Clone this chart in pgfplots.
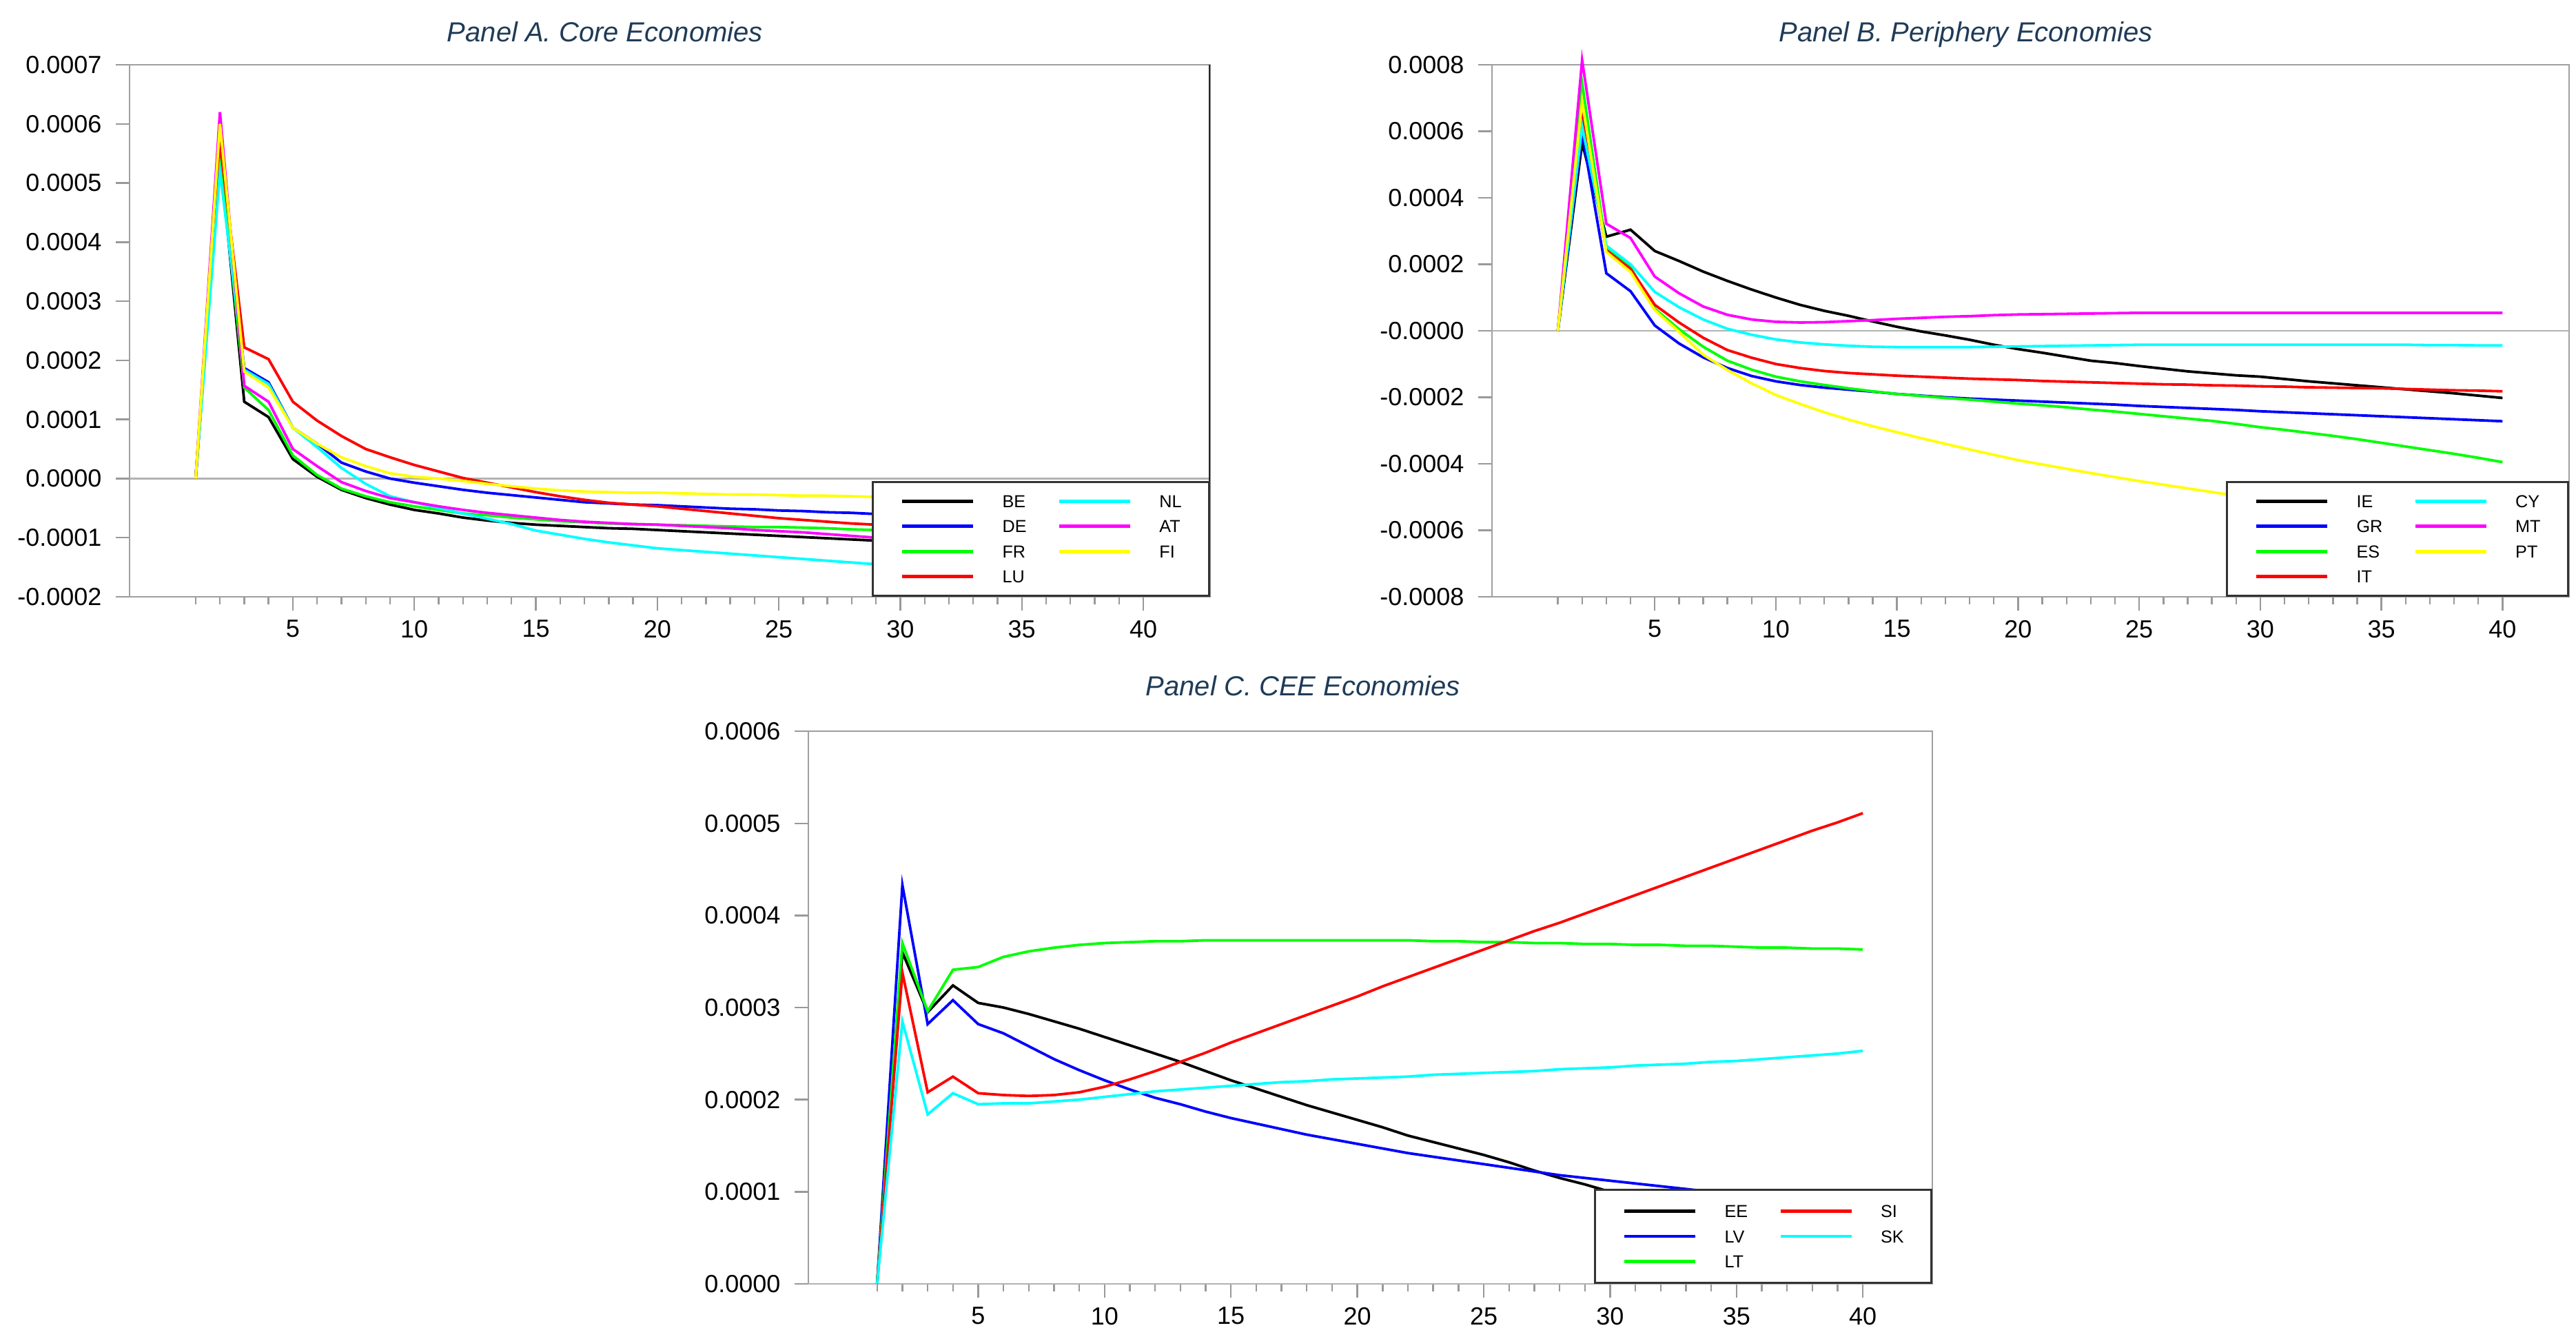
\documentclass[border=0pt]{standalone}
\usepackage{pgfplots}
\pgfplotsset{compat=1.18}
\usepackage{pgfplotstable}
\usepackage{fontspec}
\setmainfont{Liberation Sans}
\definecolor{titleblue}{HTML}{1F3B57}
\definecolor{cgreen}{RGB}{0,255,0}
\definecolor{cblue}{RGB}{0,0,255}
\definecolor{cred}{RGB}{255,0,0}
\definecolor{ccyan}{RGB}{0,255,255}
\definecolor{cmag}{RGB}{255,0,255}
\definecolor{cyel}{RGB}{255,255,0}

% values in units of 0.0001
\pgfplotstableread{
t BE DE FR LU NL AT FI
1 0 0 0 0 0 0 0
2 5.5 5.45 5.5 5.7 5.2 6.2 6.0
3 1.30 1.87 1.54 2.22 1.84 1.57 1.81
4 1.04 1.63 1.16 2.02 1.60 1.30 1.54
5 0.33 0.86 0.39 1.30 0.86 0.50 0.86
6 0.03 0.59 0.06 0.98 0.53 0.21 0.59
7 -0.19 0.27 -0.17 0.72 0.18 -0.06 0.36
8 -0.33 0.12 -0.30 0.50 -0.09 -0.21 0.21
9 -0.44 0.00 -0.40 0.36 -0.30 -0.33 0.09
10 -0.53 -0.07 -0.47 0.23 -0.40 -0.40 0.03
11 -0.59 -0.13 -0.53 0.12 -0.50 -0.47 0.00
12 -0.66 -0.19 -0.59 0.01 -0.59 -0.53 -0.04
13 -0.71 -0.24 -0.62 -0.07 -0.68 -0.58 -0.09
14 -0.75 -0.28 -0.66 -0.15 -0.77 -0.62 -0.13
15 -0.78 -0.32 -0.69 -0.23 -0.88 -0.66 -0.17
16 -0.80 -0.36 -0.72 -0.30 -0.95 -0.70 -0.20
17 -0.82 -0.40 -0.74 -0.36 -1.02 -0.73 -0.22
18 -0.84 -0.42 -0.76 -0.41 -1.08 -0.75 -0.23
19 -0.85 -0.44 -0.77 -0.44 -1.13 -0.77 -0.24
20 -0.87 -0.45 -0.78 -0.47 -1.18 -0.78 -0.24
21 -0.89 -0.47 -0.79 -0.51 -1.21 -0.80 -0.25
22 -0.91 -0.49 -0.80 -0.55 -1.24 -0.82 -0.26
23 -0.93 -0.51 -0.81 -0.59 -1.27 -0.84 -0.27
24 -0.95 -0.52 -0.82 -0.63 -1.30 -0.87 -0.27
25 -0.97 -0.54 -0.82 -0.67 -1.33 -0.89 -0.28
26 -0.99 -0.55 -0.83 -0.70 -1.36 -0.91 -0.29
27 -1.01 -0.57 -0.84 -0.73 -1.39 -0.94 -0.29
28 -1.03 -0.58 -0.86 -0.76 -1.42 -0.97 -0.30
29 -1.05 -0.60 -0.87 -0.78 -1.45 -1.00 -0.31
30 -1.06 -0.61 -0.88 -0.80 -1.48 -1.01 -0.31
31 -1.08 -0.62 -0.89 -0.82 -1.50 -1.03 -0.31
32 -1.09 -0.63 -0.90 -0.84 -1.52 -1.04 -0.32
33 -1.11 -0.64 -0.90 -0.86 -1.54 -1.05 -0.32
34 -1.12 -0.65 -0.91 -0.87 -1.56 -1.06 -0.32
35 -1.14 -0.66 -0.92 -0.89 -1.58 -1.07 -0.32
36 -1.15 -0.67 -0.92 -0.90 -1.60 -1.08 -0.33
37 -1.16 -0.68 -0.93 -0.91 -1.62 -1.09 -0.33
38 -1.18 -0.69 -0.94 -0.93 -1.64 -1.10 -0.33
39 -1.19 -0.70 -0.94 -0.94 -1.66 -1.11 -0.33
40 -1.20 -0.71 -0.95 -0.95 -1.68 -1.12 -0.33
}\coretab

\pgfplotstableread{
t IE GR ES IT CY MT PT
1 0 0 0 0 0 0 0
2 5.65 5.95 7.45 6.48 6.15 8.14 6.90
3 2.83 1.73 2.46 2.42 2.56 3.22 2.37
4 3.04 1.19 1.91 1.86 2.00 2.79 1.77
5 2.40 0.16 0.66 0.78 1.17 1.63 0.62
6 2.10 -0.38 0.05 0.25 0.71 1.13 -0.03
7 1.78 -0.80 -0.48 -0.21 0.34 0.73 -0.72
8 1.50 -1.12 -0.90 -0.58 0.06 0.48 -1.18
9 1.24 -1.36 -1.17 -0.81 -0.12 0.34 -1.58
10 1.00 -1.52 -1.38 -1.00 -0.26 0.27 -1.93
11 0.78 -1.63 -1.52 -1.12 -0.35 0.25 -2.20
12 0.60 -1.71 -1.63 -1.21 -0.41 0.26 -2.45
13 0.45 -1.77 -1.73 -1.27 -0.45 0.29 -2.67
14 0.28 -1.83 -1.82 -1.31 -0.48 0.32 -2.87
15 0.12 -1.90 -1.90 -1.35 -0.49 0.36 -3.05
16 -0.02 -1.95 -1.96 -1.38 -0.49 0.39 -3.23
17 -0.14 -2.00 -2.02 -1.41 -0.49 0.42 -3.40
18 -0.27 -2.04 -2.07 -1.44 -0.49 0.44 -3.57
19 -0.42 -2.07 -2.13 -1.46 -0.48 0.47 -3.73
20 -0.55 -2.10 -2.19 -1.48 -0.47 0.49 -3.89
21 -0.66 -2.13 -2.24 -1.51 -0.46 0.50 -4.02
22 -0.78 -2.16 -2.30 -1.53 -0.45 0.51 -4.15
23 -0.90 -2.19 -2.37 -1.55 -0.44 0.52 -4.28
24 -0.97 -2.22 -2.43 -1.57 -0.43 0.53 -4.40
25 -1.06 -2.26 -2.50 -1.59 -0.42 0.54 -4.52
26 -1.14 -2.29 -2.57 -1.61 -0.42 0.54 -4.63
27 -1.22 -2.32 -2.64 -1.62 -0.42 0.54 -4.74
28 -1.28 -2.35 -2.71 -1.64 -0.42 0.54 -4.85
29 -1.34 -2.38 -2.80 -1.65 -0.42 0.54 -4.96
30 -1.38 -2.42 -2.90 -1.67 -0.42 0.54 -5.06
31 -1.45 -2.45 -2.98 -1.68 -0.42 0.54 -5.16
32 -1.52 -2.48 -3.07 -1.70 -0.42 0.54 -5.26
33 -1.58 -2.51 -3.16 -1.71 -0.42 0.54 -5.35
34 -1.64 -2.54 -3.26 -1.72 -0.42 0.54 -5.44
35 -1.70 -2.57 -3.37 -1.73 -0.42 0.54 -5.53
36 -1.76 -2.60 -3.48 -1.75 -0.42 0.54 -5.62
37 -1.82 -2.63 -3.59 -1.77 -0.43 0.54 -5.70
38 -1.88 -2.66 -3.70 -1.79 -0.43 0.54 -5.78
39 -1.95 -2.69 -3.82 -1.80 -0.44 0.54 -5.86
40 -2.02 -2.72 -3.95 -1.82 -0.44 0.54 -5.94
}\pertab

\pgfplotstableread{
t EE LV LT SI SK
1 0 0 0 0 0
2 3.60 4.33 3.70 3.38 2.85
3 2.95 2.82 2.96 2.08 1.84
4 3.24 3.08 3.41 2.25 2.07
5 3.05 2.82 3.44 2.07 1.95
6 3.00 2.72 3.55 2.05 1.96
7 2.93 2.58 3.61 2.04 1.96
8 2.85 2.44 3.65 2.05 1.98
9 2.77 2.32 3.68 2.08 2.00
10 2.68 2.21 3.70 2.14 2.03
11 2.59 2.11 3.71 2.22 2.06
12 2.50 2.02 3.72 2.31 2.09
13 2.41 1.95 3.72 2.41 2.11
14 2.31 1.87 3.73 2.51 2.13
15 2.21 1.80 3.73 2.62 2.15
16 2.12 1.74 3.73 2.72 2.17
17 2.03 1.68 3.73 2.82 2.19
18 1.94 1.62 3.73 2.92 2.20
19 1.86 1.57 3.73 3.02 2.22
20 1.78 1.52 3.73 3.12 2.23
21 1.70 1.47 3.73 3.23 2.24
22 1.61 1.42 3.73 3.33 2.25
23 1.54 1.38 3.72 3.43 2.27
24 1.47 1.34 3.72 3.53 2.28
25 1.40 1.30 3.71 3.63 2.29
26 1.32 1.26 3.71 3.73 2.30
27 1.23 1.22 3.70 3.83 2.31
28 1.15 1.18 3.70 3.92 2.33
29 1.08 1.15 3.69 4.02 2.34
30 1.00 1.12 3.69 4.12 2.35
31 0.92 1.09 3.68 4.22 2.37
32 0.84 1.06 3.68 4.32 2.38
33 0.76 1.03 3.67 4.42 2.39
34 0.68 1.00 3.67 4.52 2.41
35 0.61 0.97 3.66 4.62 2.42
36 0.54 0.94 3.65 4.72 2.44
37 0.47 0.91 3.65 4.82 2.46
38 0.40 0.88 3.64 4.92 2.48
39 0.33 0.85 3.64 5.01 2.50
40 0.27 0.82 3.63 5.11 2.53
}\ceetab

\pgfplotsset{
  irf/.style={
    scale only axis,
    xmin=-1.72, xmax=42.75,
    xtick={5,10,...,40},
    xticklabels={5,10,15,20,25,30,35,40},
    minor xtick={1,...,40},
    tick align=outside,
    xtick pos=bottom, ytick pos=left,
    major tick length=5pt, minor tick length=2.75pt,
    tick style={gray!80, line width=0.6pt},
    axis line style={gray!75, line width=0.7pt},
    tick label style={font=\fontsize{9}{10}\selectfont},
    yticklabel style={xshift=-1.6pt},
    title style={font=\itshape\fontsize{10}{12}\selectfont, text=titleblue,
      at={(0.44,1)}, anchor=base, yshift=2.5pt},
    legend columns=2,
    legend cell align=left,
    legend image code/.code={\draw[#1, line width=1.2pt] (0pt,0pt) -- (25.75pt,0pt);},
    legend style={at={(1,0)}, anchor=south east, draw=black!80, line width=0.7pt,
      fill=white, font=\fontsize{6.3}{7}\selectfont,
      inner xsep=10pt, inner ysep=4.7pt, row sep=4.5pt,
      nodes={inner sep=0pt, text height=4.6pt, text depth=0pt, anchor=west},
      /tikz/every odd column/.append style={column sep=10pt},
      /tikz/every even column/.append style={column sep=11.25pt}},
    every axis plot/.append style={line width=0.95pt, forget plot},
    extra y ticks={0}, extra y tick labels={},
    extra y tick style={grid=major, major grid style={gray!60, line width=0.7pt}, major tick length=0pt},
  }
}

\begin{document}
\begin{tikzpicture}[x=1pt,y=1pt]
\useasboundingbox (0,0) rectangle (934.5,485.5);

% Panel A
\begin{axis}[irf, at={(47pt,269pt)}, anchor=south west,
  width=392pt, height=193pt,
  ymin=-2, ymax=7, ytick={-2,-1,...,7},
  yticklabels={-0.0002,-0.0001,0.0000,0.0001,0.0002,0.0003,0.0004,0.0005,0.0006,0.0007},
  title={Panel A. Core Economies}]
\addplot[black] table[x=t,y=BE]{\coretab};
\addplot[cblue] table[x=t,y=DE]{\coretab};
\addplot[cgreen] table[x=t,y=FR]{\coretab};
\addplot[cred] table[x=t,y=LU]{\coretab};
\addplot[ccyan] table[x=t,y=NL]{\coretab};
\addplot[cmag] table[x=t,y=AT]{\coretab};
\addplot[cyel] table[x=t,y=FI]{\coretab};
\draw[black!85, line width=0.8pt] (rel axis cs:1,0) -- (rel axis cs:1,1);
\addlegendimage{black}\addlegendentry{BE}
\addlegendimage{ccyan}\addlegendentry{NL}
\addlegendimage{cblue}\addlegendentry{DE}
\addlegendimage{cmag}\addlegendentry{AT}
\addlegendimage{cgreen}\addlegendentry{FR}
\addlegendimage{cyel}\addlegendentry{FI}
\addlegendimage{cred}\addlegendentry{LU}
\end{axis}

% Panel B
\begin{axis}[irf, at={(541.25pt,269pt)}, anchor=south west,
  width=390.75pt, height=193pt, clip=false,
  ymin=-8, ymax=8, ytick={-8,-6,...,8},
  yticklabels={-0.0008,-0.0006,-0.0004,-0.0002,-0.0000,0.0002,0.0004,0.0006,0.0008},
  title={Panel B. Periphery Economies}]
\addplot[black] table[x=t,y=IE]{\pertab};
\addplot[cblue] table[x=t,y=GR]{\pertab};
\addplot[cgreen] table[x=t,y=ES]{\pertab};
\addplot[cred] table[x=t,y=IT]{\pertab};
\addplot[ccyan] table[x=t,y=CY]{\pertab};
\addplot[cmag] table[x=t,y=MT]{\pertab};
\addplot[cyel] table[x=t,y=PT]{\pertab};
\addlegendimage{black}\addlegendentry{IE}
\addlegendimage{ccyan}\addlegendentry{CY}
\addlegendimage{cblue}\addlegendentry{GR}
\addlegendimage{cmag}\addlegendentry{MT}
\addlegendimage{cgreen}\addlegendentry{ES}
\addlegendimage{cyel}\addlegendentry{PT}
\addlegendimage{cred}\addlegendentry{IT}
\end{axis}

% Panel C
\begin{axis}[irf, at={(293.25pt,19.75pt)}, anchor=south west,
  width=407.75pt, height=200.5pt,
  ymin=0, ymax=6, ytick={0,1,...,6},
  yticklabels={0.0000,0.0001,0.0002,0.0003,0.0004,0.0005,0.0006},
  title={Panel C. CEE Economies}, title style={yshift=4.5pt},
  legend style={inner ysep=5.5pt}]
\addplot[black] table[x=t,y=EE]{\ceetab};
\addplot[cblue] table[x=t,y=LV]{\ceetab};
\addplot[cgreen] table[x=t,y=LT]{\ceetab};
\addplot[cred] table[x=t,y=SI]{\ceetab};
\addplot[ccyan] table[x=t,y=SK]{\ceetab};
\addlegendimage{black}\addlegendentry{EE}
\addlegendimage{cred}\addlegendentry{SI}
\addlegendimage{cblue}\addlegendentry{LV}
\addlegendimage{ccyan}\addlegendentry{SK}
\addlegendimage{cgreen}\addlegendentry{LT}
\end{axis}
\end{tikzpicture}
\end{document}
